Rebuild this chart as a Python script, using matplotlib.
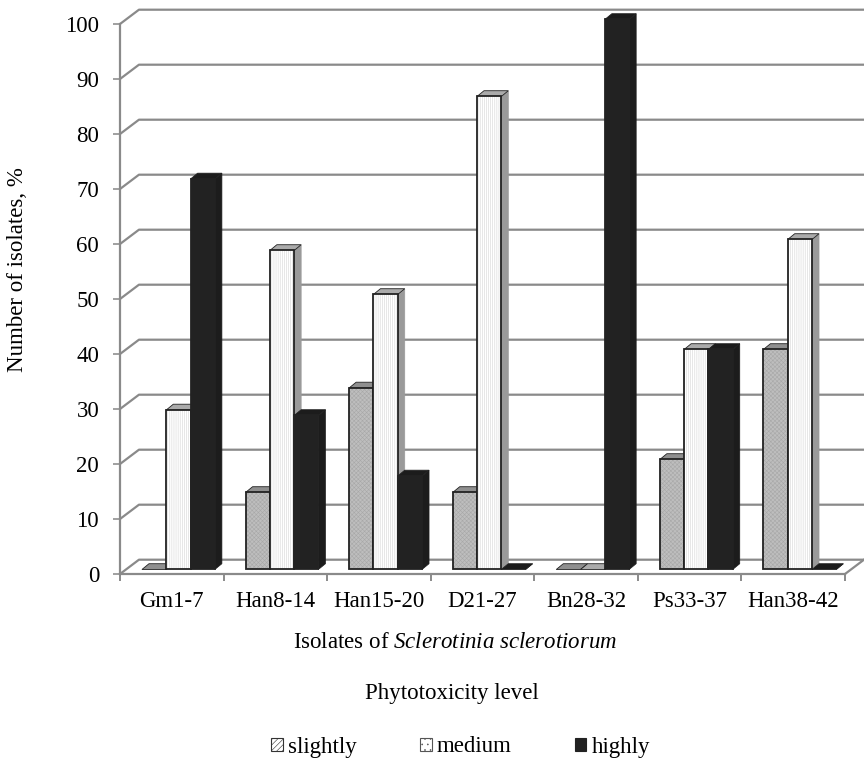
import matplotlib
matplotlib.use('Agg')
import matplotlib.pyplot as plt
from matplotlib.patches import Patch, Polygon

plt.rcParams['font.family'] = ['Liberation Serif', 'DejaVu Serif']
plt.rcParams['hatch.linewidth'] = 0.4
plt.rcParams['mathtext.fontset'] = 'custom'
plt.rcParams['mathtext.rm'] = 'Liberation Serif'
plt.rcParams['mathtext.it'] = 'Liberation Serif:italic'

categories = ['Gm1-7', 'Han8-14', 'Han15-20', 'D21-27', 'Bn28-32', 'Ps33-37', 'Han38-42']
slightly = [0, 14, 33, 14, 0, 20, 40]
medium = [29, 58, 50, 86, 0, 40, 60]
highly = [71, 28, 17, 0, 100, 40, 0]
y_ticks = list(range(0, 101, 10))

W, H = 864, 758
GRID = '#8a8a8a'
OUTLINE = '#222222'
FS = 16.5

# fake 3D, all in data units (103.6 px per category, 5.5 px per percent)
WALL_DX, WALL_DY = 0.183, 2.6
BAR_DX, BAR_DY = 0.068, 1.05
BAR_LIFT = 0.82
BAR_START, BAR_W = 0.212, 0.2346

fig = plt.figure(figsize=(W / 100, H / 100), dpi=100)
ax = fig.add_axes([120 / W, 1 - 574 / H, 725 / W, 550 / H])
ax.set_xlim(0, 7)
ax.set_ylim(0, 100)
ax.patch.set_visible(False)

for s in ['top', 'right']:
    ax.spines[s].set_visible(False)
for s in ['left', 'bottom']:
    ax.spines[s].set_color(GRID)
    ax.spines[s].set_linewidth(1.6)

# walls and floor
for v in y_ticks:
    ax.plot([0, WALL_DX, 7 + WALL_DX], [v, v + WALL_DY, v + WALL_DY],
            color=GRID, lw=1.6, clip_on=False, zorder=1)
ax.plot([7, 7 + WALL_DX], [0, WALL_DY], color=GRID, lw=1.6, clip_on=False, zorder=1)

series = [
    (slightly, '#bebebe', 'xxxxxxxx', '#a8a8a8', '#8f8f8f', '#8f8f8f'),
    (medium, '#ffffff', '||||||||', '#d4d4d4', '#9a9a9a', '#ababab'),
    (highly, '#222222', None, '#222222', '#1c1c1c', '#1c1c1c'),
]

for c in range(len(categories)):
    for k, (vals, face, hatch, hatch_col, side_col, top_col) in enumerate(series):
        z = 2 + c + k * 0.1
        x0 = c + BAR_START + k * BAR_W
        x1 = x0 + BAR_W
        top = vals[c] + BAR_LIFT
        # right side and top face
        ax.add_patch(Polygon([(x1, BAR_LIFT), (x1 + BAR_DX, BAR_LIFT + BAR_DY),
                              (x1 + BAR_DX, top + BAR_DY), (x1, top)],
                             fc=side_col, ec=side_col, lw=0.5, clip_on=False, zorder=z))
        ax.add_patch(Polygon([(x0, top), (x0 + BAR_DX, top + BAR_DY),
                              (x1 + BAR_DX, top + BAR_DY), (x1, top)],
                             fc=top_col, ec=OUTLINE, lw=0.6, clip_on=False, zorder=z))
        if vals[c] > 0:
            ax.bar(x0, vals[c], BAR_W, bottom=BAR_LIFT, align='edge', color=face,
                   hatch=hatch, edgecolor=hatch_col, lw=0, clip_on=False, zorder=z)
            ax.bar(x0, vals[c], BAR_W, bottom=BAR_LIFT, align='edge', fill=False,
                   edgecolor=OUTLINE, lw=1.3, clip_on=False, zorder=z)

ax.set_yticks(y_ticks)
ax.tick_params(axis='y', length=5, width=1.4, color='#a0a0a0', pad=10, labelsize=FS)
ax.set_xticks(range(8))
ax.set_xticklabels([])
ax.set_xticks([i + 0.5 for i in range(7)], minor=True)
ax.set_xticklabels(categories, minor=True)
ax.tick_params(axis='x', which='major', length=5, width=1.4, color=GRID)
ax.tick_params(axis='x', which='minor', length=0, pad=12, labelsize=FS)

fig.text(18 / W, 1 - 270 / H, 'Number of isolates, %', rotation=90, ha='center', va='center', fontsize=FS)
fig.text(455 / W, 1 - 642 / H, r'Isolates of $\mathit{Sclerotinia\ sclerotiorum}$',
         ha='center', va='center', fontsize=FS)
fig.text(451.5 / W, 1 - 694 / H, 'Phytotoxicity level', ha='center', va='center', fontsize=FS)

handles = [
    Patch(fc='white', ec='#333333', hatch='//////', lw=0.8, label='slightly'),
    Patch(fc='white', ec='#555555', hatch='...', lw=0.8, label='medium'),
    Patch(fc='#222222', ec='#222222', lw=0.8, label='highly'),
]
fig.legend(handles=handles, ncol=3, loc='center', bbox_to_anchor=(460.5 / W, 1 - 747 / H),
           frameon=False, fontsize=FS, handlelength=0.52, handleheight=0.52,
           handletextpad=0.22, columnspacing=2.75, borderpad=0)

fig.savefig('out.png', dpi=100)
